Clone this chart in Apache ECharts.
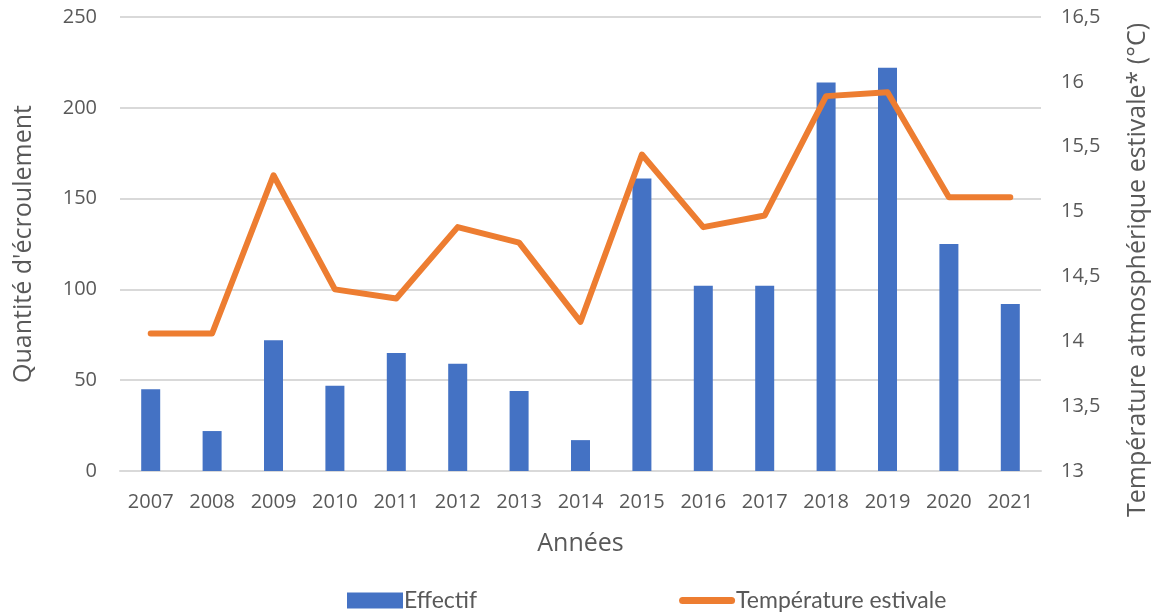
<!DOCTYPE html>
<html>
<head>
<meta charset="utf-8">
<script src="https://cdn.jsdelivr.net/npm/echarts@6/dist/echarts.min.js"></script>
<style>
  html, body { margin: 0; padding: 0; background: #fff; }
  #chart { width: 1158px; height: 614px; }
</style>
</head>
<body>
<div id="chart"></div>
<script>
// years on the x axis
const years = ['2007', '2008', '2009', '2010', '2011', '2012', '2013', '2014',
  '2015', '2016', '2017', '2018', '2019', '2020', '2021']
// number of rockfalls (left axis)
const effectif = [45, 22, 72, 47, 65, 59, 44, 17, 161, 102, 102, 214, 222, 125, 92]
// summer air temperature (right axis, °C)
const temperature = [14.06, 14.06, 15.28, 14.4, 14.33, 14.88, 14.76, 14.15,
  15.44, 14.88, 14.97, 15.89, 15.92, 15.11, 15.11]

const grey = '#595959'
const font = 'Open Sans'

const chart = echarts.init(document.getElementById('chart'))
chart.setOption({
  animation: false,
  textStyle: { fontFamily: font },
  grid: { left: 120, right: 113, top: 17, bottom: 143 },
  legend: {
    left: 342,
    top: 584,
    itemGap: 202,
    itemWidth: 56,
    itemHeight: 16,
    textStyle: { color: grey, fontSize: 23, fontFamily: 'Lato', padding: [0, 0, 0, -4] },
    data: [
      { name: 'Effectif', icon: 'rect' },
      {
        name: 'Température estivale',
        icon: 'path://M3.5,0 L52.5,0 A3.5,3.5 0 0 1 52.5,7 L3.5,7 A3.5,3.5 0 0 1 3.5,0 Z'
      }
    ]
  },
  xAxis: {
    type: 'category',
    data: years,
    name: 'Années',
    nameLocation: 'middle',
    nameGap: 60,
    nameTextStyle: { color: grey, fontSize: 25 },
    axisLine: { lineStyle: { color: '#d9d9d9', width: 2 } },
    axisTick: { show: false },
    axisLabel: { color: grey, fontSize: 20, margin: 21 }
  },
  yAxis: [
    {
      type: 'value',
      min: 0,
      max: 250,
      interval: 50,
      name: "Quantité d'écroulement",
      nameLocation: 'middle',
      nameGap: 84,
      nameRotate: 90,
      nameTextStyle: { color: grey, fontSize: 25 },
      axisLabel: { color: grey, fontSize: 20, margin: 23 },
      splitLine: { lineStyle: { color: '#d9d9d9', width: 2 } }
    },
    {
      type: 'value',
      min: 13,
      max: 16.5,
      interval: 0.5,
      position: 'right',
      name: 'Température atmosphérique estivale* (°C)',
      nameLocation: 'middle',
      nameGap: 84,
      nameRotate: 90,
      nameTextStyle: { color: grey, fontSize: 25, padding: [0, 52, 0, 0] },
      axisLabel: {
        color: grey,
        fontSize: 20,
        margin: 20,
        formatter: v => String(v).replace('.', ',')
      },
      splitLine: { show: false }
    }
  ],
  series: [
    {
      name: 'Effectif',
      type: 'bar',
      data: effectif,
      barWidth: 19,
      itemStyle: { color: '#4472c4' }
    },
    {
      name: 'Température estivale',
      type: 'line',
      yAxisIndex: 1,
      data: temperature,
      symbol: 'none',
      itemStyle: { color: '#ed7d31' },
      lineStyle: { color: '#ed7d31', width: 6, cap: 'round', join: 'round' }
    }
  ]
})
</script>
</body>
</html>
